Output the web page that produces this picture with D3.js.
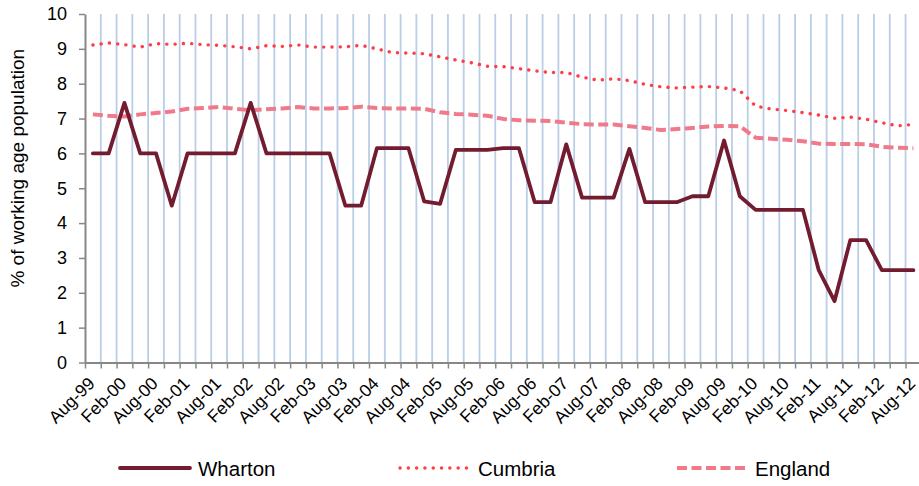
<!DOCTYPE html>
<html>
<head>
<meta charset="utf-8">
<script src="https://cdn.jsdelivr.net/npm/d3@7"></script>
<style>
  html, body { margin: 0; padding: 0; background: #fff; }
  svg { display: block; font-family: "Liberation Sans", Arial, sans-serif; }
</style>
</head>
<body>
<svg id="chart" width="919" height="486"></svg>
<script>
const categories = [
  "Aug-99","Nov-99","Feb-00","May-00","Aug-00","Nov-00","Feb-01","May-01","Aug-01","Nov-01",
  "Feb-02","May-02","Aug-02","Nov-02","Feb-03","May-03","Aug-03","Nov-03","Feb-04","May-04",
  "Aug-04","Nov-04","Feb-05","May-05","Aug-05","Nov-05","Feb-06","May-06","Aug-06","Nov-06",
  "Feb-07","May-07","Aug-07","Nov-07","Feb-08","May-08","Aug-08","Nov-08","Feb-09","May-09",
  "Aug-09","Nov-09","Feb-10","May-10","Aug-10","Nov-10","Feb-11","May-11","Aug-11","Nov-11",
  "Feb-12","May-12","Aug-12"
];
const tickLabels = [
  "Aug-99","Feb-00","Aug-00","Feb-01","Aug-01","Feb-02","Aug-02","Feb-03","Aug-03","Feb-04",
  "Aug-04","Feb-05","Aug-05","Feb-06","Aug-06","Feb-07","Aug-07","Feb-08","Aug-08","Feb-09",
  "Aug-09","Feb-10","Aug-10","Feb-11","Aug-11","Feb-12","Aug-12"
];
const yTicks = [0,1,2,3,4,5,6,7,8,9,10];
const wharton = [
  6.0, 6.0, 7.45, 6.0, 6.0, 4.5, 6.0, 6.0, 6.0, 6.0,
  7.45, 6.0, 6.0, 6.0, 6.0, 6.0, 4.5, 4.5, 6.15, 6.15,
  6.15, 4.62, 4.55, 6.1, 6.1, 6.1, 6.15, 6.15, 4.6, 4.6,
  6.26, 4.73, 4.73, 4.73, 6.13, 4.6, 4.6, 4.6, 4.77, 4.77,
  6.37, 4.77, 4.38, 4.38, 4.38, 4.38, 2.65, 1.76, 3.51, 3.51,
  2.65, 2.65, 2.65
];
const cumbria = [
  9.11, 9.17, 9.12, 9.05, 9.15, 9.13, 9.16, 9.12, 9.1, 9.06,
  9.0, 9.09, 9.07, 9.11, 9.05, 9.05, 9.06, 9.1, 9.0, 8.89,
  8.88, 8.86, 8.77, 8.68, 8.6, 8.5, 8.49, 8.43, 8.37, 8.32,
  8.32, 8.19, 8.1, 8.14, 8.09, 7.98, 7.91, 7.88, 7.9, 7.92,
  7.88, 7.8, 7.36, 7.27, 7.23, 7.17, 7.1, 7.01, 7.04, 6.98,
  6.88, 6.79, 6.83
];
const england = [
  7.12, 7.08, 7.06, 7.12, 7.16, 7.2, 7.28, 7.3, 7.33, 7.28,
  7.24, 7.27, 7.29, 7.33, 7.29, 7.29, 7.3, 7.34, 7.3, 7.29,
  7.29, 7.28, 7.18, 7.13, 7.11, 7.08, 6.99, 6.95, 6.94, 6.93,
  6.88, 6.84, 6.83, 6.83, 6.78, 6.73, 6.67, 6.7, 6.73, 6.77,
  6.79, 6.78, 6.45, 6.42, 6.39, 6.35, 6.28, 6.27, 6.27, 6.26,
  6.19, 6.16, 6.15
];
const seriesNames = ["Wharton", "Cumbria", "England"];

const svg = d3.select("#chart");
const mLeft = 85, mRight = 921.3, mTop = 14, mBottom = 362.5;

const x = d3.scaleBand().domain(categories).range([mLeft, mRight]).padding(0);
const xEdge = d3.scaleLinear().domain([0, categories.length]).range([mLeft, mRight]);
const y = d3.scaleLinear().domain([0, 10]).range([mBottom, mTop]);

const gridColor = "#BACEE6";
const axisColor = "#878787";

// vertical gridlines at category boundaries
svg.append("g")
  .selectAll("line")
  .data(d3.range(1, categories.length))
  .join("line")
  .attr("x1", d => xEdge(d)).attr("x2", d => xEdge(d))
  .attr("y1", y(10)).attr("y2", y(0))
  .attr("stroke", gridColor).attr("stroke-width", 1.8);

// x axis ticks at boundaries
const xAxisG = svg.append("g")
  .attr("transform", `translate(0,${mBottom})`)
  .call(d3.axisBottom(xEdge).tickValues(d3.range(0, categories.length + 1)).tickFormat("").tickSize(6).tickSizeOuter(0));
xAxisG.select(".domain").attr("stroke", axisColor).attr("stroke-width", 2);
xAxisG.selectAll(".tick line").attr("stroke", axisColor).attr("stroke-width", 1.5);

// x labels
const xLab = svg.append("g")
  .attr("transform", `translate(0,${mBottom})`)
  .call(d3.axisBottom(x).tickValues(tickLabels).tickSize(0));
xLab.select(".domain").remove();
xLab.selectAll(".tick text")
  .attr("font-size", 17.5)
  .attr("fill", "#000")
  .attr("font-family", "Liberation Sans, Arial, sans-serif")
  .attr("text-anchor", "end")
  .attr("dy", 0)
  .attr("y", 0)
  .attr("transform", "translate(3,22) rotate(-45)");

// y axis
const yAxisG = svg.append("g")
  .attr("transform", `translate(${mLeft},0)`)
  .call(d3.axisLeft(y).tickValues(yTicks).tickSize(6).tickSizeOuter(0).tickPadding(12));
yAxisG.select(".domain").attr("stroke", axisColor).attr("stroke-width", 2);
yAxisG.selectAll(".tick line").attr("stroke", axisColor).attr("stroke-width", 1.5);
yAxisG.selectAll(".tick text")
  .attr("font-size", 18)
  .attr("fill", "#000")
  .attr("font-family", "Liberation Sans, Arial, sans-serif");

// y axis title
svg.append("text")
  .attr("transform", `translate(24,${(mTop + mBottom) / 2 - 20}) rotate(-90)`)
  .attr("text-anchor", "middle")
  .attr("font-size", 19)
  .attr("fill", "#000")
  .text("% of working age population");

const line = d3.line()
  .x((d, i) => x(categories[i]) + x.bandwidth() / 2)
  .y(d => y(d));

const styles = {
  Cumbria: { color: "#FF3F47", width: 3.4, dash: "0.1 8.2", cap: "round" },
  England: { color: "#F07A8A", width: 4, dash: "10 4.5", cap: "butt" },
  Wharton: { color: "#731C30", width: 3.8, dash: null, cap: "round" }
};
const dataMap = { Wharton: wharton, Cumbria: cumbria, England: england };

["Cumbria", "England", "Wharton"].forEach(name => {
  const s = styles[name];
  svg.append("path")
    .datum(dataMap[name])
    .attr("d", line)
    .attr("fill", "none")
    .attr("stroke", s.color)
    .attr("stroke-width", s.width)
    .attr("stroke-linecap", s.cap)
    .attr("stroke-linejoin", "round")
    .attr("stroke-dasharray", s.dash);
});

// legend
const legendPos = { Wharton: 120, Cumbria: 400, England: 677 };
const legY = 468;
seriesNames.forEach(name => {
  const s = styles[name];
  const lx = legendPos[name];
  svg.append("line")
    .attr("x1", lx).attr("x2", lx + 70)
    .attr("y1", legY).attr("y2", legY)
    .attr("stroke", s.color)
    .attr("stroke-width", s.width)
    .attr("stroke-linecap", s.cap)
    .attr("stroke-dasharray", s.dash);
  svg.append("text")
    .attr("x", lx + 78).attr("y", legY + 7.5)
    .attr("font-size", 20.5)
    .attr("fill", "#000")
    .text(name);
});
</script>
</body>
</html>
